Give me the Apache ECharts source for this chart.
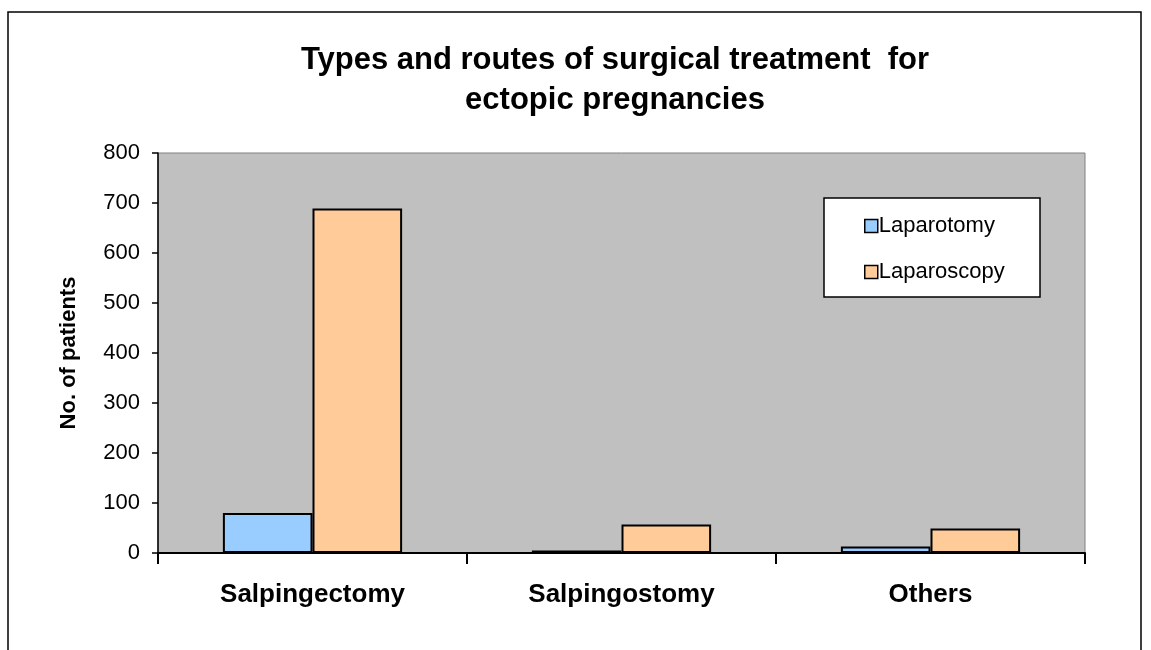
<!DOCTYPE html>
<html>
<head>
<meta charset="utf-8">
<script src="https://cdn.jsdelivr.net/npm/echarts@6/dist/echarts.min.js"></script>
<style>
  html, body { margin: 0; padding: 0; background: #fff; }
  #main { width: 1151px; height: 650px; }
</style>
</head>
<body>
<div id="main"></div>
<script>
var categories = ['Salpingectomy', 'Salpingostomy', 'Others'];
var laparotomy = [80, 5, 13];
var laparoscopy = [689, 57, 49];
var yTicks = [0, 800, 100];

var chartDom = document.getElementById('main');
var myChart = echarts.init(chartDom);
var option;

option = {
    backgroundColor: '#fff',
    textStyle: { fontFamily: 'Arial, "Liberation Sans", sans-serif' },
    title: {
        text: 'Types and routes of surgical treatment  for\nectopic pregnancies',
        left: 610,
        textAlign: 'center',
        top: 35,
        textStyle: {
            fontFamily: 'Arial, "Liberation Sans", sans-serif',
            fontSize: 31,
            fontWeight: 'bold',
            lineHeight: 40,
            color: '#000'
        }
    },
    graphic: [
        {
            type: 'rect',
            shape: { x: 8, y: 12, width: 1133, height: 660 },
            style: { fill: 'none', stroke: '#000', lineWidth: 1.5 },
            silent: true
        },
        {
            type: 'rect',
            shape: { x: 824, y: 198, width: 216, height: 99 },
            style: { fill: '#fff', stroke: '#000', lineWidth: 1.5 },
            z: 5
        }
    ],
    legend: {
        orient: 'vertical',
        left: 859,
        top: 210,
        itemGap: 24,
        itemWidth: 13,
        itemHeight: 13,
        icon: 'rect',
        z: 10,
        textStyle: {
            fontFamily: 'Arial, "Liberation Sans", sans-serif',
            fontSize: 22,
            color: '#000',
            padding: [0, 0, 0, -4]
        },
        data: [
            { name: 'Laparotomy', itemStyle: { borderColor: '#000', borderWidth: 1.5 } },
            { name: 'Laparoscopy', itemStyle: { borderColor: '#000', borderWidth: 1.5 } }
        ]
    },
    grid: {
        left: 158,
        right: 66,
        top: 153,
        bottom: 97,
        show: true,
        backgroundColor: '#c0c0c0',
        borderColor: '#808080',
        borderWidth: 1
    },
    xAxis: {
        type: 'category',
        data: categories,
        axisLine: { lineStyle: { color: '#000', width: 2 } },
        axisTick: { show: true, length: 11, lineStyle: { color: '#000', width: 2 } },
        axisLabel: {
            margin: 29,
            fontFamily: 'Arial, "Liberation Sans", sans-serif',
            fontSize: 26,
            fontWeight: 'bold',
            color: '#000'
        }
    },
    yAxis: {
        type: 'value',
        min: yTicks[0],
        max: yTicks[1],
        interval: yTicks[2],
        name: 'No. of patients',
        nameLocation: 'middle',
        nameGap: 78,
        nameTextStyle: {
            fontFamily: 'Arial, "Liberation Sans", sans-serif',
            fontSize: 22,
            fontWeight: 'bold',
            color: '#000'
        },
        axisLine: { show: true, lineStyle: { color: '#000', width: 1.5 } },
        axisTick: { show: true, length: 6, lineStyle: { color: '#000', width: 1.5 } },
        splitLine: { show: false },
        axisLabel: {
            margin: 18,
            fontFamily: 'Arial, "Liberation Sans", sans-serif',
            fontSize: 22,
            color: '#000'
        }
    },
    series: [
        {
            name: 'Laparotomy',
            type: 'bar',
            data: laparotomy,
            barGap: '0%',
            barCategoryGap: '42%',
            itemStyle: { color: '#99ccff', borderColor: '#000', borderWidth: 2 }
        },
        {
            name: 'Laparoscopy',
            type: 'bar',
            data: laparoscopy,
            barGap: '0%',
            barCategoryGap: '42%',
            itemStyle: { color: '#ffcc99', borderColor: '#000', borderWidth: 2 }
        }
    ]
};

option && myChart.setOption(option);
</script>
</body>
</html>
